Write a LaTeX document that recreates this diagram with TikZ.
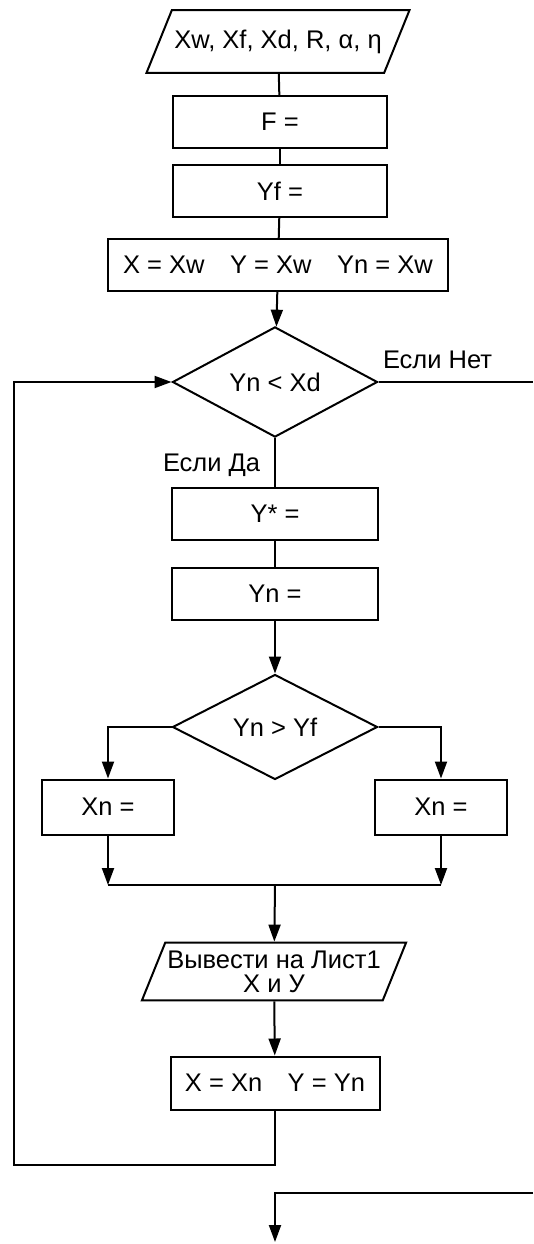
\documentclass[tikz,border=0pt]{standalone}
\usepackage{fontspec}
\setmainfont{Liberation Sans}
\usetikzlibrary{shapes.geometric,arrows.meta}
\begin{document}
\begin{tikzpicture}[
  x=1pt, y=-1pt,
  font=\fontsize{25.5}{24}\selectfont,
  line width=2pt,
  blk/.style={draw, rectangle, minimum height=52pt, inner sep=2pt},
  dec/.style={draw, diamond, minimum width=205pt, minimum height=105pt, inner sep=0pt},
  io/.style={draw, trapezium, trapezium left angle=68, trapezium right angle=112,
             trapezium stretches body, minimum width=263pt,
             align=center, inner xsep=2pt, inner ysep=19.5pt},
  arr/.style={-{Triangle[length=17pt,width=12pt]}},
  lbl/.style={anchor=base west, inner sep=0pt}
]
  \useasboundingbox (0,0) rectangle (533,1244);

  \node[io] (inp) at (278, 41.5) {Xw, Xf, Xd, R, α, η};
  \node[blk, minimum width=214pt] (ff) at (280, 122) {F =};
  \node[blk, minimum width=214pt] (yf) at (280, 191) {Yf =};
  \node[blk, minimum width=340pt] (ini) at (278, 265) {X = Xw\quad Y = Xw\quad Yn = Xw};
  \node[dec] (cnd) at (275, 382) {Yn < Xd};
  \node[lbl] (lno) at (382, 368) {Если Нет};
  \node[lbl] (lyes) at (162, 471) {Если Да};
  \node[blk, minimum width=206pt] (yst) at (275, 514) {Y* =};
  \node[blk, minimum width=206pt] (ynn) at (275, 594) {Yn =};
  \node[dec] (cmp) at (275, 727) {Yn > Yf};
  \node[blk, minimum width=132pt, minimum height=55pt] (xl) at (108, 807) {Xn =};
  \node[blk, minimum width=132pt, minimum height=55pt] (xr) at (441, 807) {Xn =};
  \coordinate (mrg) at (275, 885);
  \node[io, inner ysep=8pt] (outp) at (274, 971.5) {Вывести на Лист1\\X и У};
  \node[blk, minimum width=209pt, minimum height=53pt] (upd) at (275, 1083) {X = Xn\quad Y = Yn};

  \coordinate (lp) at (14, 1165);
  \coordinate (no) at (533, 382);
  \coordinate (ret) at (533, 1193);
  \coordinate (endp) at (275, 1242);

  %% straight run down the top
  \draw (inp) -- (ff);
  \draw (ff) -- (yf);
  \draw (yf) -- (ini);
  \draw[arr] (ini) -- (cnd);

  %% loop condition
  \draw (cnd.east) -- (no);
  \draw (cnd) -- (yst);
  \draw (yst) -- (ynn);
  \draw[arr] (ynn) -- (cmp);

  %% branches and merge
  \draw[arr] (cmp.west) -| (xl.north);
  \draw[arr] (cmp.east) -| (xr.north);
  \draw[arr] (xl) -- (xl |- mrg);
  \draw[arr] (xr) -- (xr |- mrg);
  \draw (xl |- mrg) -- (xr |- mrg);
  \draw[arr] (mrg) -- (outp);
  \draw[arr] (outp) -- (upd);

  %% back to the condition
  \draw[arr] (upd.south) |- (lp) |- (cnd.west);

  %% coming back in from the right
  \draw[arr] (ret) -| (endp);
\end{tikzpicture}
\end{document}
